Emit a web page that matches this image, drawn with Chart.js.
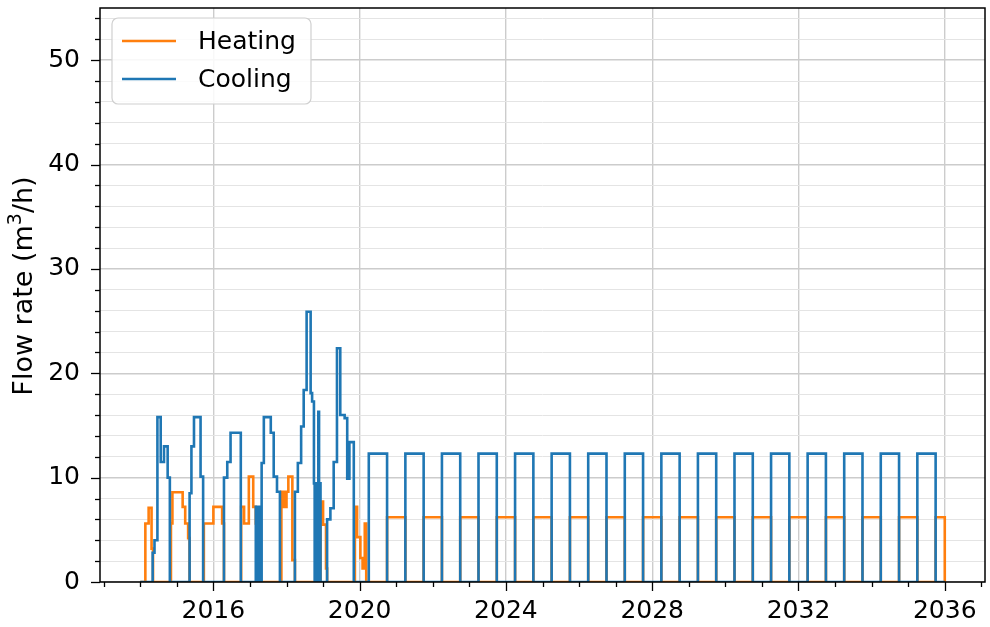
<!DOCTYPE html>
<html>
<head>
<meta charset="utf-8">
<script src="https://cdn.jsdelivr.net/npm/chart.js@4.4.1/dist/chart.umd.min.js"></script>
<style>
  html, body { margin: 0; padding: 0; background: #fff; }
  #chart { display: block; }
</style>
</head>
<body>
<canvas id="chart" width="990" height="627"></canvas>
<script>
// step change points (decimal year -> value held until next point)
const heatT = [2014.00, 2014.14, 2014.23, 2014.31, 2014.35,
  2014.84, 2014.88, 2015.16, 2015.23, 2015.31, 2015.35,
  2015.74, 2016.00, 2016.24, 2016.29,
  2016.76, 2016.84, 2016.97, 2017.09, 2017.16, 2017.24,
  2017.86, 2017.93, 2018.00, 2018.05, 2018.16, 2018.23,
  2018.93, 2019.00, 2019.08, 2019.11,
  2019.87, 2019.93, 2020.02, 2020.08, 2020.14, 2020.18,
  2020.75, 2021.25, 2021.75, 2022.25, 2022.75, 2023.25, 2023.75, 2024.25,
  2024.75, 2025.25, 2025.75, 2026.25, 2026.75, 2027.25, 2027.75, 2028.25,
  2028.75, 2029.25, 2029.75, 2030.25, 2030.75, 2031.25, 2031.75, 2032.25,
  2032.75, 2033.25, 2033.75, 2034.25, 2034.75, 2035.25, 2035.75, 2036.00];
const heatV = [0, 5.6, 7.1, 3.2, 0,
  5.6, 8.6, 7.2, 5.6, 4.2, 0,
  5.6, 7.2, 5.6, 0,
  7.2, 5.6, 10.1, 7.2, 5.6, 0,
  8.65, 7.2, 8.65, 10.1, 2.1, 0,
  7.7, 5.5, 1.3, 0,
  7.2, 4.3, 2.3, 1.3, 5.6, 0,
  6.2, 0, 6.2, 0, 6.2, 0, 6.2, 0,
  6.2, 0, 6.2, 0, 6.2, 0, 6.2, 0,
  6.2, 0, 6.2, 0, 6.2, 0, 6.2, 0,
  6.2, 0, 6.2, 0, 6.2, 0, 6.2, 0];

const coolT = [2014.00, 2014.34, 2014.39, 2014.47, 2014.56, 2014.65, 2014.75, 2014.81,
  2015.35, 2015.40, 2015.47, 2015.65, 2015.72,
  2016.29, 2016.38, 2016.47, 2016.75,
  2017.16, 2017.18, 2017.20, 2017.22, 2017.24, 2017.26, 2017.28, 2017.30,
  2017.32, 2017.38, 2017.57, 2017.65, 2017.74, 2017.82,
  2018.23, 2018.31, 2018.40, 2018.47, 2018.55, 2018.66, 2018.70,
  2018.75, 2018.77, 2018.79, 2018.81, 2018.83, 2018.85, 2018.87, 2018.89, 2018.91, 2018.93,
  2019.11, 2019.20, 2019.29, 2019.38, 2019.47, 2019.59, 2019.66, 2019.72, 2019.84,
  2020.25, 2020.75, 2021.25, 2021.75, 2022.25, 2022.75, 2023.25, 2023.75,
  2024.25, 2024.75, 2025.25, 2025.75, 2026.25, 2026.75, 2027.25, 2027.75,
  2028.25, 2028.75, 2029.25, 2029.75, 2030.25, 2030.75, 2031.25, 2031.75,
  2032.25, 2032.75, 2033.25, 2033.75, 2034.25, 2034.75, 2035.25, 2035.75, 2036.00];
const coolV = [0, 2.8, 4.0, 15.8, 11.5, 13.0, 10.0, 0,
  8.5, 13.0, 15.8, 10.1, 0,
  10.0, 11.5, 14.3, 0,
  7.2, 0, 7.2, 0, 7.2, 0, 7.2, 0,
  11.4, 15.8, 14.3, 10.1, 8.65, 0,
  8.65, 11.4, 14.9, 18.4, 25.9, 18.1, 17.3,
  9.45, 0, 9.45, 0, 9.45, 0, 16.3, 0, 9.45, 0,
  6.0, 7.06, 11.5, 22.4, 16.0, 15.7, 9.9, 13.4, 0,
  12.3, 0, 12.3, 0, 12.3, 0, 12.3, 0,
  12.3, 0, 12.3, 0, 12.3, 0, 12.3, 0,
  12.3, 0, 12.3, 0, 12.3, 0, 12.3, 0,
  12.3, 0, 12.3, 0, 12.3, 0, 12.3, 0, 0];

const xMajor = [2016, 2020, 2024, 2028, 2032, 2036];
const yMajor = [0, 10, 20, 30, 40, 50];
const seriesNames = ['Heating', 'Cooling'];
const seriesColors = ['#ff7f0e', '#1f77b4'];
// y label pieces: text, superscript, text
const yLabelParts = ['Flow rate (m', '3', '/h)'];

const FONT = '"DejaVu Sans", "Liberation Sans", sans-serif';

function toPoints(ts, vs) {
  return ts.map((t, i) => ({ x: t, y: vs[i] }));
}

// no extra padding for labels, plot box is fixed
function noPad(s) {
  s.paddingTop = 0; s.paddingBottom = 0; s.paddingLeft = 0; s.paddingRight = 0;
}

// frame, minor/major tick marks, y label and legend like matplotlib
const decorations = {
  id: 'decorations',
  afterDatasetsDraw(chart) {
    const { ctx, chartArea: a, scales } = chart;
    const x = scales.x, y = scales.y;
    ctx.save();
    ctx.strokeStyle = '#000';
    ctx.lineWidth = 1.3;
    x.ticks.forEach(t => {
      const px = Math.round(x.getPixelForValue(t.value)) + 0.5;
      const len = xMajor.includes(t.value) ? 9 : 5;
      ctx.beginPath(); ctx.moveTo(px, a.bottom); ctx.lineTo(px, a.bottom + len); ctx.stroke();
    });
    y.ticks.forEach(t => {
      const py = Math.round(y.getPixelForValue(t.value)) + 0.5;
      const len = yMajor.includes(t.value) ? 9 : 5;
      ctx.beginPath(); ctx.moveTo(a.left, py); ctx.lineTo(a.left - len, py); ctx.stroke();
    });
    ctx.lineWidth = 1.5;
    ctx.strokeRect(a.left, a.top, a.right - a.left, a.bottom - a.top);

    // y axis label with superscript
    ctx.fillStyle = '#000';
    ctx.textBaseline = 'alphabetic';
    ctx.textAlign = 'left';
    const big = '27px ' + FONT, small = '19px ' + FONT;
    ctx.font = big;
    const w0 = ctx.measureText(yLabelParts[0]).width;
    const w2 = ctx.measureText(yLabelParts[2]).width;
    ctx.font = small;
    const w1 = ctx.measureText(yLabelParts[1]).width;
    const total = w0 + w1 + w2;
    ctx.save();
    ctx.translate(32, 286);
    ctx.rotate(-Math.PI / 2);
    let cx = -total / 2;
    ctx.font = big;
    ctx.fillText(yLabelParts[0], cx, 0);
    cx += w0;
    ctx.font = small;
    ctx.fillText(yLabelParts[1], cx, -11);
    cx += w1;
    ctx.font = big;
    ctx.fillText(yLabelParts[2], cx, 0);
    ctx.restore();

    // legend
    ctx.font = '25px ' + FONT;
    ctx.textBaseline = 'middle';
    const lx = a.left + 12, ly = a.top + 10, lw = 199, lh = 86;
    ctx.beginPath();
    ctx.roundRect(lx, ly, lw, lh, 6);
    ctx.fillStyle = 'rgba(255,255,255,0.85)';
    ctx.fill();
    ctx.strokeStyle = '#d0d0d0';
    ctx.lineWidth = 1.2;
    ctx.stroke();
    seriesNames.forEach((name, i) => {
      const cy = ly + 23 + i * 38;
      ctx.strokeStyle = seriesColors[i];
      ctx.lineWidth = 2.6;
      ctx.beginPath(); ctx.moveTo(lx + 10, cy); ctx.lineTo(lx + 64, cy); ctx.stroke();
      ctx.fillStyle = '#000';
      ctx.fillText(name, lx + 86, cy + 1);
    });
    ctx.restore();
  }
};

new Chart(document.getElementById('chart'), {
  type: 'line',
  data: {
    datasets: [
      {
        label: seriesNames[0],
        data: toPoints(heatT, heatV),
        borderColor: seriesColors[0],
        borderWidth: 2.6,
        stepped: true,
        pointRadius: 0,
        fill: false,
        order: 1
      },
      {
        label: seriesNames[1],
        data: toPoints(coolT, coolV),
        borderColor: seriesColors[1],
        borderWidth: 2.6,
        stepped: true,
        pointRadius: 0,
        fill: false,
        order: 0
      }
    ]
  },
  options: {
    responsive: false,
    animation: false,
    devicePixelRatio: 1,
    layout: { padding: { top: 8, right: 5, left: 0, bottom: 0 } },
    plugins: { legend: { display: false }, tooltip: { enabled: false } },
    scales: {
      x: {
        type: 'linear',
        min: 2012.9,
        max: 2037.1,
        afterFit: s => { s.height = 45; noPad(s); },
        border: { display: false },
        grid: {
          drawTicks: false,
          lineWidth: 1.4,
          color: c => (c.tick && xMajor.includes(c.tick.value)) ? '#cccccc' : 'rgba(0,0,0,0)'
        },
        ticks: {
          stepSize: 1,
          includeBounds: false,
          autoSkip: false,
          maxRotation: 0,
          minRotation: 0,
          padding: 14,
          color: '#000',
          font: { family: FONT, size: 25 },
          callback: v => xMajor.includes(v) ? String(v) : ''
        }
      },
      y: {
        min: 0,
        max: 55,
        afterFit: s => { s.width = 100; noPad(s); },
        border: { display: false },
        grid: {
          drawTicks: false,
          lineWidth: c => (c.tick && yMajor.includes(c.tick.value)) ? 1.4 : 1,
          color: c => (c.tick && yMajor.includes(c.tick.value)) ? '#cccccc' : '#e4e4e4'
        },
        ticks: {
          stepSize: 2,
          includeBounds: false,
          autoSkip: false,
          padding: 20,
          color: '#000',
          font: { family: FONT, size: 25 },
          callback: v => yMajor.includes(v) ? String(v) : ''
        }
      }
    }
  },
  plugins: [decorations]
});
</script>
</body>
</html>
